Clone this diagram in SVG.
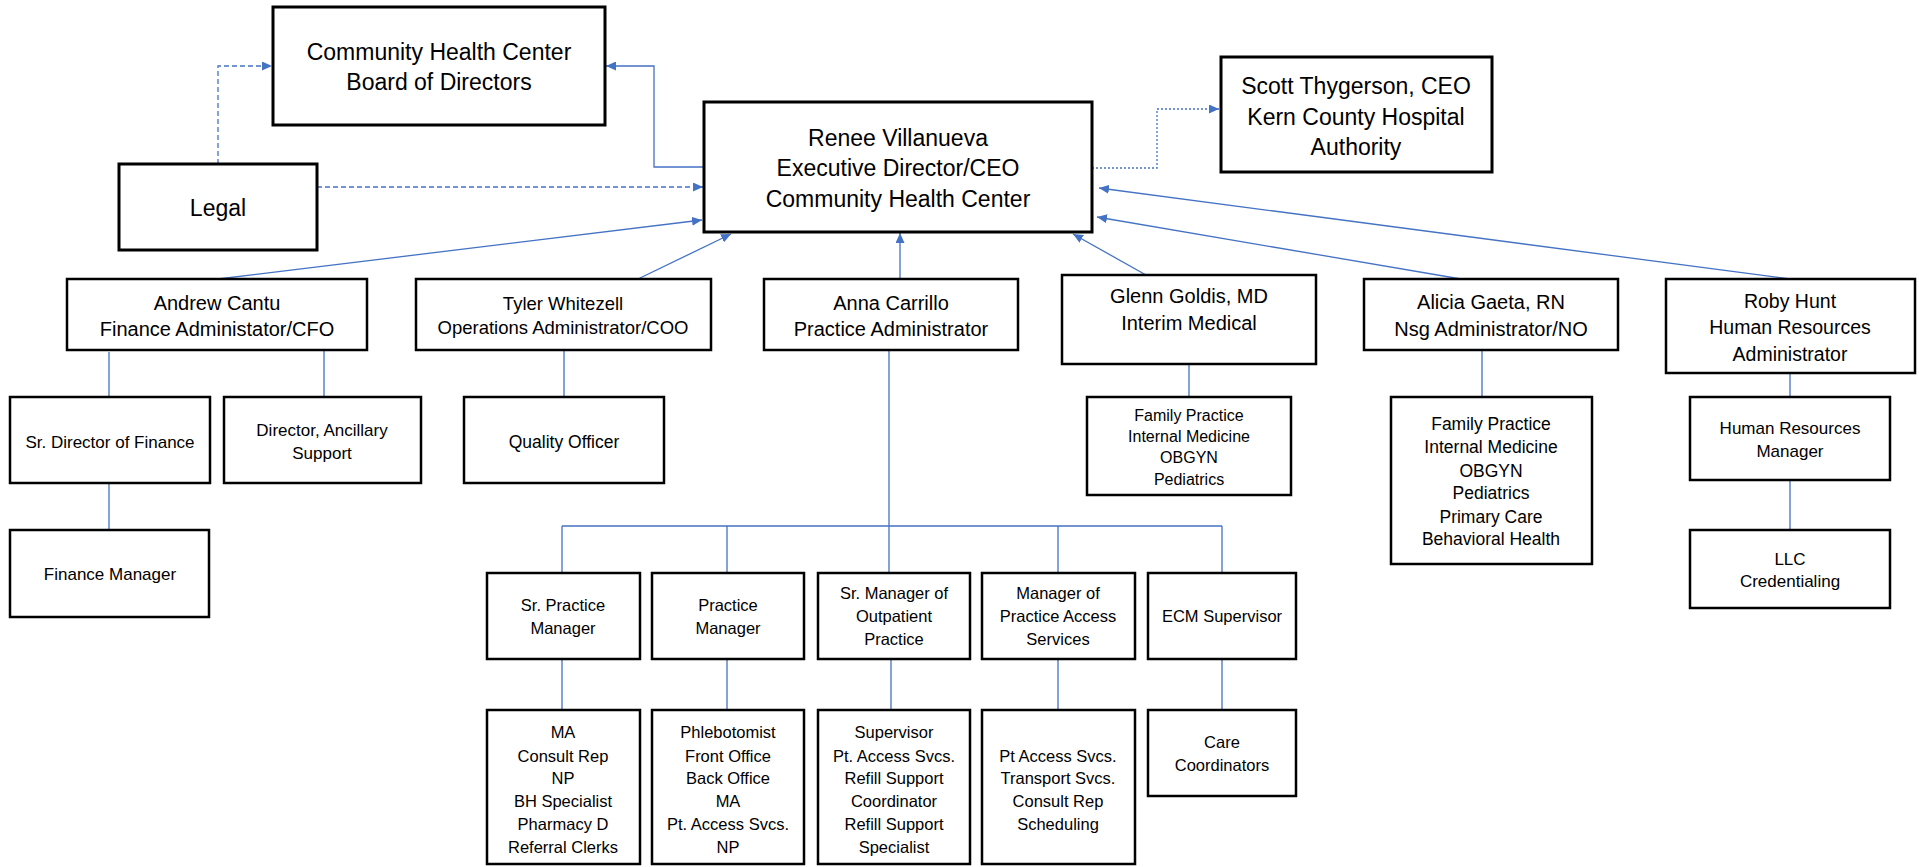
<svg xmlns="http://www.w3.org/2000/svg" width="1919" height="867" viewBox="0 0 1919 867">
<style>
.box{fill:#fff;stroke:#000;stroke-width:2.5}
.big{stroke-width:3}
.t{font-family:"Liberation Sans",Arial,sans-serif;fill:#000;text-anchor:middle}
.c{fill:none;stroke:#4472C4;stroke-width:1.3}
.dash{stroke-dasharray:5 3}
.dot{stroke-dasharray:2 2}
</style>
<defs>
<marker id="ah" markerUnits="userSpaceOnUse" markerWidth="10" markerHeight="9" viewBox="0 0 10 9" refX="10" refY="4.5" orient="auto">
<path d="M0,0 L10,4.5 L0,9 z" fill="#4472C4"/>
</marker>
</defs>
<rect width="1919" height="867" fill="#fff"/>
<g id="connectors">
<path class="c dash" d="M218,164 V66 H272" marker-end="url(#ah)"/>
<path class="c" d="M704,167 H654 V66 H606" marker-end="url(#ah)"/>
<path class="c dash" d="M317,187 H703" marker-end="url(#ah)"/>
<path class="c dot" d="M1092,168 H1157 V109 H1219" marker-end="url(#ah)"/>
<path class="c" d="M218,279 L702,220" marker-end="url(#ah)"/>
<path class="c" d="M638,279 L731,234" marker-end="url(#ah)"/>
<path class="c" d="M900,279 V233" marker-end="url(#ah)"/>
<path class="c" d="M1146,275 L1073,234" marker-end="url(#ah)"/>
<path class="c" d="M1461,279 L1097,217" marker-end="url(#ah)"/>
<path class="c" d="M1790,279 L1099,188" marker-end="url(#ah)"/>
<path class="c" d="M109,352 V397 M324,350 V397 M564,350 V397 M109,483 V530"/>
<path class="c" d="M1189,364 V397 M1482,350 V397 M1790,373 V397 M1790,480 V530"/>
<path class="c" d="M889,350 V572 M562,526 H1222 M562,526 V572 M727,526 V572 M1058,526 V572 M1222,526 V572"/>
<path class="c" d="M562,659 V710 M727,659 V710 M891,659 V710 M1058,659 V710 M1222,659 V710"/>
</g>
<g id="board"><rect class="box big" x="273" y="7" width="332" height="118"/>
<text class="t" font-size="23"><tspan x="439" y="60">Community Health Center</tspan><tspan x="439" y="90">Board of Directors</tspan></text></g>
<g id="renee"><rect class="box big" x="704" y="102" width="388" height="130"/>
<text class="t" font-size="23"><tspan x="898" y="146">Renee Villanueva</tspan><tspan x="898" y="176">Executive Director/CEO</tspan><tspan x="898" y="207">Community Health Center</tspan></text></g>
<g id="scott"><rect class="box big" x="1221" y="57" width="271" height="115"/>
<text class="t" font-size="23"><tspan x="1356" y="94">Scott Thygerson, CEO</tspan><tspan x="1356" y="125">Kern County Hospital</tspan><tspan x="1356" y="155">Authority</tspan></text></g>
<g id="legal"><rect class="box big" x="119" y="164" width="198" height="86"/>
<text class="t" font-size="23" x="218" y="216">Legal</text></g>
<g id="andrew"><rect class="box" x="67" y="279" width="300" height="71"/>
<text class="t" font-size="20"><tspan x="217" y="310">Andrew Cantu</tspan><tspan x="217" y="336">Finance Administator/CFO</tspan></text></g>
<g id="tyler"><rect class="box" x="416" y="279" width="295" height="71"/>
<text class="t" font-size="18.5"><tspan x="563" y="310">Tyler Whitezell</tspan><tspan x="563" y="334">Operations Administrator/COO</tspan></text></g>
<g id="anna"><rect class="box" x="764" y="279" width="254" height="71"/>
<text class="t" font-size="20"><tspan x="891" y="310">Anna Carrillo</tspan><tspan x="891" y="336">Practice Administrator</tspan></text></g>
<g id="glenn"><rect class="box" x="1062" y="275" width="254" height="89"/>
<text class="t" font-size="20"><tspan x="1189" y="303">Glenn Goldis, MD</tspan><tspan x="1189" y="330">Interim Medical</tspan></text></g>
<g id="alicia"><rect class="box" x="1364" y="279" width="254" height="71"/>
<text class="t" font-size="20"><tspan x="1491" y="309">Alicia Gaeta, RN</tspan><tspan x="1491" y="336">Nsg Administrator/NO</tspan></text></g>
<g id="roby"><rect class="box" x="1666" y="279" width="249" height="94"/>
<text class="t" font-size="19.5"><tspan x="1790" y="308">Roby Hunt</tspan><tspan x="1790" y="334">Human Resources</tspan><tspan x="1790" y="361">Administrator</tspan></text></g>
<g id="srdirfin"><rect class="box" x="10" y="397" width="200" height="86"/>
<text class="t" font-size="17" x="110" y="448">Sr. Director of Finance</text></g>
<g id="dirancillary"><rect class="box" x="224" y="397" width="197" height="86"/>
<text class="t" font-size="17"><tspan x="322" y="436">Director, Ancillary</tspan><tspan x="322" y="459">Support</tspan></text></g>
<g id="quality"><rect class="box" x="464" y="397" width="200" height="86"/>
<text class="t" font-size="17.5" x="564" y="448">Quality Officer</text></g>
<g id="finmgr"><rect class="box" x="10" y="530" width="199" height="87"/>
<text class="t" font-size="17" x="110" y="580">Finance Manager</text></g>
<g id="glennchild"><rect class="box" x="1087" y="397" width="204" height="98"/>
<text class="t" font-size="16"><tspan x="1189" y="421">Family Practice</tspan><tspan x="1189" y="442">Internal Medicine</tspan><tspan x="1189" y="463">OBGYN</tspan><tspan x="1189" y="485">Pediatrics</tspan></text></g>
<g id="aliciachild"><rect class="box" x="1391" y="397" width="201" height="167"/>
<text class="t" font-size="17.5"><tspan x="1491" y="430">Family Practice</tspan><tspan x="1491" y="453">Internal Medicine</tspan><tspan x="1491" y="477">OBGYN</tspan><tspan x="1491" y="499">Pediatrics</tspan><tspan x="1491" y="523">Primary Care</tspan><tspan x="1491" y="545">Behavioral Health</tspan></text></g>
<g id="hrmgr"><rect class="box" x="1690" y="397" width="200" height="83"/>
<text class="t" font-size="17"><tspan x="1790" y="434">Human Resources</tspan><tspan x="1790" y="457">Manager</tspan></text></g>
<g id="llc"><rect class="box" x="1690" y="530" width="200" height="78"/>
<text class="t" font-size="17"><tspan x="1790" y="565">LLC</tspan><tspan x="1790" y="587">Credentialing</tspan></text></g>
<g id="srpracmgr"><rect class="box" x="487" y="573" width="153" height="86"/>
<text class="t" font-size="16.5"><tspan x="563" y="611">Sr. Practice</tspan><tspan x="563" y="634">Manager</tspan></text></g>
<g id="pracmgr"><rect class="box" x="652" y="573" width="152" height="86"/>
<text class="t" font-size="16.5"><tspan x="728" y="611">Practice</tspan><tspan x="728" y="634">Manager</tspan></text></g>
<g id="srmgroutp"><rect class="box" x="818" y="573" width="152" height="86"/>
<text class="t" font-size="16.5"><tspan x="894" y="599">Sr. Manager of</tspan><tspan x="894" y="622">Outpatient</tspan><tspan x="894" y="645">Practice</tspan></text></g>
<g id="mgraccess"><rect class="box" x="982" y="573" width="153" height="86"/>
<text class="t" font-size="16.5"><tspan x="1058" y="599">Manager of</tspan><tspan x="1058" y="622">Practice Access</tspan><tspan x="1058" y="645">Services</tspan></text></g>
<g id="ecm"><rect class="box" x="1148" y="573" width="148" height="86"/>
<text class="t" font-size="16.5" x="1222" y="622">ECM Supervisor</text></g>
<g id="srpracstaff"><rect class="box" x="487" y="710" width="153" height="154"/>
<text class="t" font-size="16.5"><tspan x="563" y="738">MA</tspan><tspan x="563" y="762">Consult Rep</tspan><tspan x="563" y="784">NP</tspan><tspan x="563" y="807">BH Specialist</tspan><tspan x="563" y="830">Pharmacy D</tspan><tspan x="563" y="853">Referral Clerks</tspan></text></g>
<g id="pracstaff"><rect class="box" x="652" y="710" width="152" height="154"/>
<text class="t" font-size="16.5"><tspan x="728" y="738">Phlebotomist</tspan><tspan x="728" y="762">Front Office</tspan><tspan x="728" y="784">Back Office</tspan><tspan x="728" y="807">MA</tspan><tspan x="728" y="830">Pt. Access Svcs.</tspan><tspan x="728" y="853">NP</tspan></text></g>
<g id="outpstaff"><rect class="box" x="818" y="710" width="152" height="154"/>
<text class="t" font-size="16.5"><tspan x="894" y="738">Supervisor</tspan><tspan x="894" y="762">Pt. Access Svcs.</tspan><tspan x="894" y="784">Refill Support</tspan><tspan x="894" y="807">Coordinator</tspan><tspan x="894" y="830">Refill Support</tspan><tspan x="894" y="853">Specialist</tspan></text></g>
<g id="accessstaff"><rect class="box" x="982" y="710" width="153" height="154"/>
<text class="t" font-size="16.5"><tspan x="1058" y="762">Pt Access Svcs.</tspan><tspan x="1058" y="784">Transport Svcs.</tspan><tspan x="1058" y="807">Consult Rep</tspan><tspan x="1058" y="830">Scheduling</tspan></text></g>
<g id="carecoord"><rect class="box" x="1148" y="710" width="148" height="86"/>
<text class="t" font-size="16.5"><tspan x="1222" y="748">Care</tspan><tspan x="1222" y="771">Coordinators</tspan></text></g>
</svg>
